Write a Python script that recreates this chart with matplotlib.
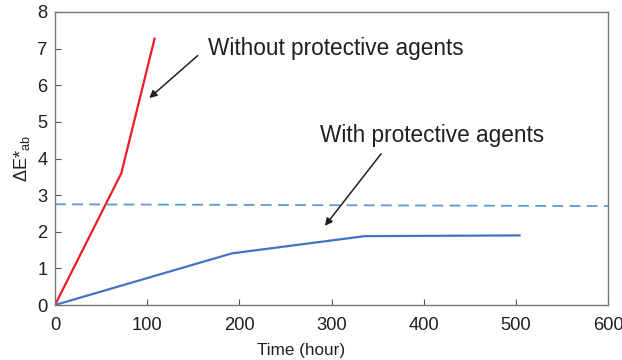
import matplotlib
matplotlib.use("Agg")
import matplotlib.pyplot as plt

plt.rcParams['font.family'] = ['Liberation Sans', 'DejaVu Sans']
plt.rcParams['mathtext.fontset'] = 'custom'
plt.rcParams['mathtext.rm'] = 'Liberation Sans'

# data
t_without = [0, 72, 108]
de_without = [0, 3.6, 7.27]
t_with = [0, 192, 336, 504]
de_with = [0, 1.41, 1.88, 1.9]
t_limit = [0, 600]
de_limit = [2.75, 2.70]

xticks = [0, 100, 200, 300, 400, 500, 600]
yticks = [0, 1, 2, 3, 4, 5, 6, 7, 8]

txt = '#231f20'

fig = plt.figure(figsize=(6.22, 3.6), dpi=100)
ax = fig.add_axes([55/622, 55/360, 553/622, 293/360])

ax.plot(t_without, de_without, color='#ed1c24', lw=1.6)
ax.plot(t_with, de_with, color='#4472c4', lw=1.6)
ax.plot(t_limit, de_limit, color='#5b9bd5', lw=1.3, dashes=(6, 3.5))

ax.annotate('Without protective agents', xy=(100, 5.6), xytext=(166, 7.0),
            fontsize=16.3, color=txt, va='center', ha='left',
            arrowprops=dict(arrowstyle='-|>', color='#231f20', lw=1.1,
                            mutation_scale=11, shrinkA=0,
                            relpos=(-0.04, 0.2)))
ax.annotate('With protective agents', xy=(291, 2.1), xytext=(287, 4.64),
            fontsize=16.3, color=txt, va='center', ha='left',
            arrowprops=dict(arrowstyle='-|>', color='#231f20', lw=1.1,
                            mutation_scale=11, shrinkA=4,
                            relpos=(0.3, 0.0)))

ax.set_xlim(0, 600)
ax.set_ylim(0, 8)
ax.set_xticks(xticks)
ax.set_yticks(yticks)
ax.tick_params(direction='in', length=4, width=0.8, color='#555555',
               labelsize=13.2, labelcolor=txt, top=False, right=False)
ax.tick_params(axis='x', pad=8.5)
ax.tick_params(axis='y', pad=5.5)
for s in ax.spines.values():
    s.set_color('#777777')
    s.set_linewidth(1.0)

ax.set_xlabel('Time (hour)', fontsize=12.3, color=txt, labelpad=4)
ax.xaxis.set_label_coords(0.445, -0.13)
ax.set_ylabel(r'ΔE*$_{\rm ab}$', fontsize=13, color=txt, labelpad=4)

fig.savefig('out.png', dpi=100)
